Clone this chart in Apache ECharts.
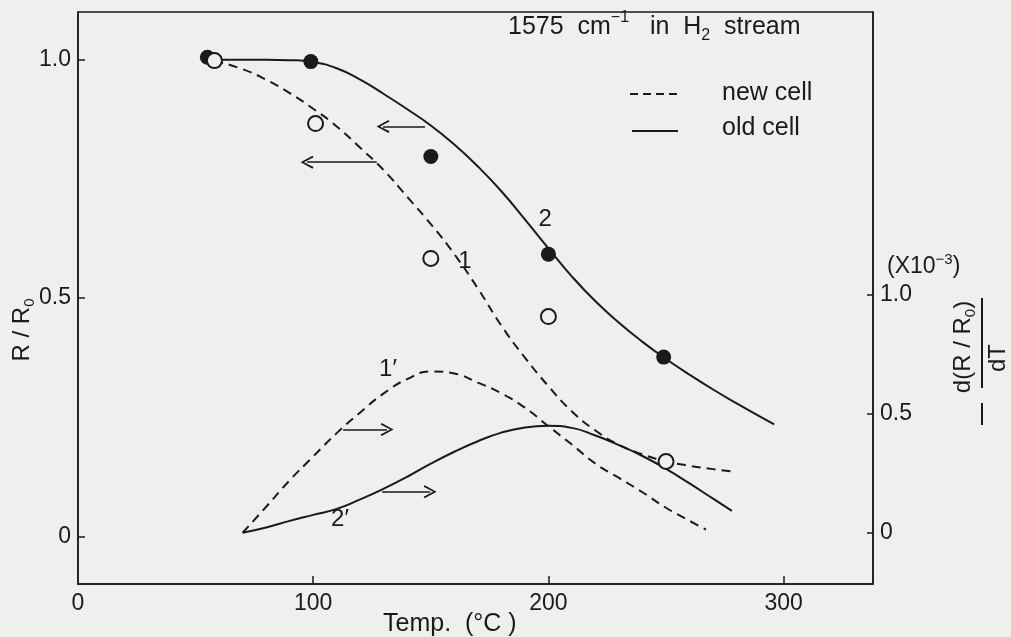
<!DOCTYPE html>
<html lang="en">
<head>
    <meta charset="UTF-8">
    <title>1575 cm-1 in H2 stream</title>
    <script src="https://cdn.jsdelivr.net/npm/echarts@6/dist/echarts.min.js"></script>
    <style>
        html, body { margin: 0; padding: 0; background: #efefed; }
        #chart { width: 1011px; height: 637px; }
    </style>
</head>
<body>
    <div id="chart"></div>

    <script>
        // R/R0, old cell (curve 2, solid)
        var tempOld = [58, 70, 80, 90, 100, 110, 120, 130, 140, 150, 160, 170, 180, 190, 200, 210, 220, 230, 240, 250, 260, 270, 280, 290, 296];
        var ratioOld = [1.0, 1.0, 1.0, 0.999, 0.995, 0.982, 0.958, 0.928, 0.896, 0.862, 0.822, 0.776, 0.724, 0.665, 0.604, 0.545, 0.493, 0.448, 0.408, 0.372, 0.339, 0.308, 0.279, 0.251, 0.235];

        // R/R0, new cell (curve 1, dashed)
        var tempNew = [58, 70, 80, 90, 100, 110, 120, 130, 140, 150, 160, 170, 180, 190, 200, 210, 220, 230, 240, 250, 260, 270, 278];
        var ratioNew = [0.998, 0.98, 0.958, 0.93, 0.897, 0.86, 0.815, 0.768, 0.712, 0.655, 0.592, 0.52, 0.442, 0.375, 0.315, 0.262, 0.222, 0.192, 0.172, 0.157, 0.148, 0.141, 0.136];

        // -d(R/R0)/dT x10^-3, new cell (curve 1', dashed)
        var tempDerivNew = [70, 80, 90, 100, 110, 120, 130, 140, 150, 160, 170, 180, 190, 200, 210, 220, 230, 240, 250, 260, 267];
        var derivNew = [0, 0.109, 0.22, 0.32, 0.418, 0.505, 0.585, 0.645, 0.677, 0.668, 0.63, 0.585, 0.525, 0.447, 0.37, 0.29, 0.23, 0.17, 0.105, 0.05, 0.013];

        // -d(R/R0)/dT x10^-3, old cell (curve 2', solid)
        var tempDerivOld = [70, 80, 90, 100, 110, 120, 130, 140, 150, 160, 170, 180, 190, 200, 210, 220, 230, 240, 250, 260, 270, 278];
        var derivOld = [0, 0.022, 0.05, 0.075, 0.10, 0.14, 0.185, 0.235, 0.29, 0.34, 0.384, 0.42, 0.442, 0.449, 0.44, 0.408, 0.368, 0.322, 0.268, 0.207, 0.143, 0.092];

        // measured points
        var tempFilled = [55, 99, 150, 200, 249];
        var ratioFilled = [1.005, 0.996, 0.797, 0.592, 0.376];
        var tempOpen = [58, 101, 150, 200, 250];
        var ratioOpen = [0.998, 0.866, 0.583, 0.461, 0.157];

        // arrows: [fromTemp, toTemp, value]
        var arrowsLeft = [[147.5, 129.7, 0.86], [127, 97.4, 0.785]];
        var arrowsRight = [[112.7, 131.4, 0.433], [129.3, 149.7, 0.172]];

        // curve labels: [text, temp, value]
        var labelsLeft = [['1', 164.5, 0.577], ['2', 198.6, 0.665]];
        var labelsRight = [['1\u2032', 131.8, 0.685], ['2\u2032', 111.4, 0.055]];

        var xTicks = [0, 100, 200, 300];
        var yTicks = [0, 0.5, 1.0];

        var ink = '#1a1a1a';
        var bg = '#efefed';
        var font = 'Liberation Sans';
        var chevron = 'path://M5,0 L10,9 L8.8,9.8 L5,2.6 L1.2,9.8 L0,9 Z';

        function zip(xs, ys) {
            return xs.map(function (x, i) { return [x, ys[i]]; });
        }
        function arrowData(list) {
            return list.map(function (a) {
                return [{ coord: [a[0], a[2]] }, { coord: [a[1], a[2]] }];
            });
        }
        function labelData(list) {
            return list.map(function (l) {
                return { name: l[0], coord: [l[1], l[2]] };
            });
        }
        function tickLabel(v) {
            return v === 0 ? '0' : v.toFixed(1);
        }

        var arrowStyle = {
            silent: true,
            symbol: ['none', chevron],
            symbolSize: [13, 13],
            lineStyle: { color: ink, width: 1.5, type: 'solid' },
            label: { show: false },
            emphasis: { disabled: true }
        };
        var curveLabel = {
            symbol: 'circle',
            symbolSize: 1,
            itemStyle: { color: 'transparent' },
            label: { show: true, position: 'inside', formatter: '{b}', color: ink, fontSize: 24, fontFamily: font }
        };
        var curve = { type: 'line', smooth: 0.5, symbol: 'none' };

        var chart = echarts.init(document.getElementById('chart'));

        var option = {
            backgroundColor: bg,
            animation: false,
            textStyle: { fontFamily: font },
            grid: {
                left: 78, top: 12, width: 795, height: 572,
                show: true, borderColor: ink, borderWidth: 1.5, backgroundColor: 'transparent'
            },
            xAxis: {
                type: 'value', min: 0, max: 338,
                axisLine: { show: true, onZero: false, lineStyle: { color: ink, width: 1.5 } },
                axisTick: { show: true, inside: true, length: 8, customValues: [100, 200, 300], lineStyle: { color: ink, width: 1.5 } },
                axisLabel: { color: ink, fontSize: 23, margin: 8, customValues: xTicks },
                splitLine: { show: false }
            },
            yAxis: [{
                type: 'value', min: -0.1, max: 1.1,
                axisLine: { show: true, onZero: false, lineStyle: { color: ink, width: 1.5 } },
                axisTick: { show: true, inside: true, length: 7, customValues: yTicks, lineStyle: { color: ink, width: 1.5 } },
                axisLabel: { color: ink, fontSize: 23, margin: 7, customValues: yTicks, formatter: tickLabel },
                splitLine: { show: false }
            }, {
                type: 'value', position: 'right', min: -0.215, max: 2.185,
                axisLine: { show: true, onZero: false, lineStyle: { color: ink, width: 1.5 } },
                axisTick: { show: true, inside: true, length: 6, customValues: yTicks, lineStyle: { color: ink, width: 1.5 } },
                axisLabel: { color: ink, fontSize: 23, margin: 7, customValues: yTicks, formatter: tickLabel },
                splitLine: { show: false }
            }],
            graphic: [
                {
                    type: 'text', x: 508, y: 27,
                    style: {
                        text: '{a|1575  cm}{sup|\u22121}{a|   in  H}{sub|2}{a|  stream}',
                        verticalAlign: 'middle', fill: ink,
                        rich: {
                            a: { fontSize: 25, fontFamily: font, lineHeight: 34, verticalAlign: 'middle' },
                            sup: { fontSize: 16, fontFamily: font, lineHeight: 34, verticalAlign: 'top' },
                            sub: { fontSize: 16, fontFamily: font, lineHeight: 34, verticalAlign: 'bottom' }
                        }
                    }
                },
                { type: 'line', shape: { x1: 630, y1: 94, x2: 677, y2: 94 }, style: { stroke: ink, lineWidth: 2, lineDash: [8, 5] } },
                { type: 'text', x: 722, y: 93, style: { text: 'new cell', font: '25px "' + font + '"', fill: ink, verticalAlign: 'middle' } },
                { type: 'line', shape: { x1: 632, y1: 131, x2: 678, y2: 131 }, style: { stroke: ink, lineWidth: 2 } },
                { type: 'text', x: 722, y: 128, style: { text: 'old cell', font: '25px "' + font + '"', fill: ink, verticalAlign: 'middle' } },
                {
                    type: 'text', x: 887, y: 267,
                    style: {
                        text: '{a|(X10}{sup|\u22123}{a|)}', verticalAlign: 'middle', fill: ink,
                        rich: {
                            a: { fontSize: 23, fontFamily: font, lineHeight: 30, verticalAlign: 'middle' },
                            sup: { fontSize: 15, fontFamily: font, lineHeight: 30, verticalAlign: 'top' }
                        }
                    }
                },
                { type: 'text', x: 383, y: 624, style: { text: 'Temp.  (\u00b0C )', font: '25px "' + font + '"', fill: ink, verticalAlign: 'middle' } },
                {
                    type: 'text', x: 22, y: 330, rotation: Math.PI / 2,
                    style: {
                        text: '{a|R / R}{sub|0}', align: 'center', verticalAlign: 'middle', fill: ink,
                        rich: {
                            a: { fontSize: 24, fontFamily: font, lineHeight: 30, verticalAlign: 'middle' },
                            sub: { fontSize: 15, fontFamily: font, lineHeight: 30, verticalAlign: 'bottom' }
                        }
                    }
                },
                {
                    type: 'text', x: 963, y: 347, rotation: Math.PI / 2,
                    style: {
                        text: '{a|d(R / R}{sub|0}{a|)}', align: 'center', verticalAlign: 'middle', fill: ink,
                        rich: {
                            a: { fontSize: 24, fontFamily: font, lineHeight: 30, verticalAlign: 'middle' },
                            sub: { fontSize: 15, fontFamily: font, lineHeight: 30, verticalAlign: 'bottom' }
                        }
                    }
                },
                { type: 'line', shape: { x1: 982, y1: 298, x2: 982, y2: 388 }, style: { stroke: ink, lineWidth: 2 } },
                { type: 'text', x: 998, y: 358, rotation: Math.PI / 2, style: { text: 'dT', font: '24px "' + font + '"', fill: ink, align: 'center', verticalAlign: 'middle' } },
                { type: 'line', shape: { x1: 982, y1: 403, x2: 982, y2: 425 }, style: { stroke: ink, lineWidth: 2 } }
            ],
            series: [
                Object.assign({}, curve, {
                    name: 'old cell', yAxisIndex: 0,
                    data: zip(tempOld, ratioOld),
                    lineStyle: { color: ink, width: 2 },
                    markLine: Object.assign({ data: arrowData(arrowsLeft) }, arrowStyle),
                    markPoint: Object.assign({ data: labelData(labelsLeft) }, curveLabel)
                }),
                Object.assign({}, curve, {
                    name: 'new cell', yAxisIndex: 0,
                    data: zip(tempNew, ratioNew),
                    lineStyle: { color: ink, width: 2, type: [9, 6] }
                }),
                Object.assign({}, curve, {
                    name: 'old cell d/dT', yAxisIndex: 1,
                    data: zip(tempDerivOld, derivOld),
                    lineStyle: { color: ink, width: 2 },
                    markLine: Object.assign({ data: arrowData(arrowsRight) }, arrowStyle),
                    markPoint: Object.assign({ data: labelData(labelsRight) }, curveLabel)
                }),
                Object.assign({}, curve, {
                    name: 'new cell d/dT', yAxisIndex: 1,
                    data: zip(tempDerivNew, derivNew),
                    lineStyle: { color: ink, width: 2, type: [9, 6] }
                }),
                {
                    name: 'old cell points', type: 'scatter', yAxisIndex: 0, z: 5,
                    data: zip(tempFilled, ratioFilled), symbolSize: 15,
                    itemStyle: { color: ink, opacity: 1 }
                },
                {
                    name: 'new cell points', type: 'scatter', yAxisIndex: 0, z: 6,
                    data: zip(tempOpen, ratioOpen), symbolSize: 15,
                    itemStyle: { color: bg, borderColor: ink, borderWidth: 2, opacity: 1 }
                }
            ]
        };

        chart.setOption(option);
    </script>
</body>
</html>
